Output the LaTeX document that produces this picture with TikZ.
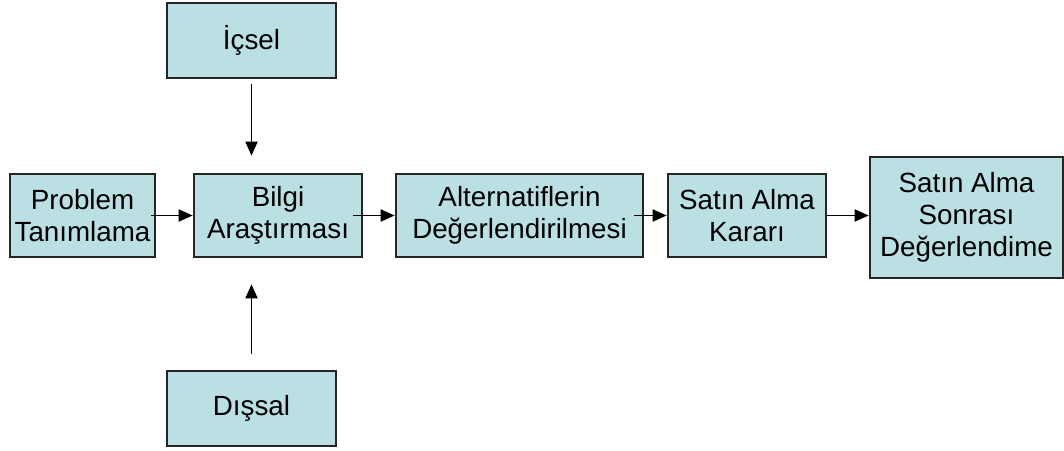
\documentclass[tikz,border=0pt]{standalone}
\usepackage{fontspec}
\setmainfont{Liberation Sans}
\usetikzlibrary{arrows.meta}
\definecolor{boxfill}{RGB}{186,224,228}
\tikzset{
  stage/.style={draw=black!85, line width=1.5pt, fill=boxfill, rectangle, align=center,
    inner sep=0pt, font=\fontsize{15.8}{18.2}\selectfont},
  flow/.style={-{Triangle[length=0.28cm,width=0.24cm]}, line width=1.05pt}
}
\begin{document}
\begin{tikzpicture}
                \useasboundingbox (0,0) rectangle (21.28,9);
                \node at (5.03,8.19) [stage, minimum width=3.38cm, minimum height=1.5cm] (icsel) {İçsel};
                \node at (1.65,4.69) [stage, minimum width=2.9cm, minimum height=1.66cm] (problem) {Problem\\Tanımlama};
                \node at (5.56,4.69) [stage, minimum width=3.36cm, minimum height=1.66cm] (bilgi) {Bilgi\\Araştırması};
                \node at (10.39,4.69) [stage, minimum width=4.94cm, minimum height=1.66cm] (alt) {Alternatiflerin\\Değerlendirilmesi};
                \node at (14.94,4.69) [stage, minimum width=3.16cm, minimum height=1.66cm] (karar) {Satın Alma\\Kararı};
                \node at (19.33,4.65) [stage, minimum width=3.86cm, minimum height=2.42cm] (sonra) {Satın Alma\\Sonrası\\Değerlendime};
                \node at (5.03,0.83) [stage, minimum width=3.38cm, minimum height=1.5cm] (dissal) {Dışsal};
                \draw[flow, shorten <=-0.1cm] (problem.east) -- (bilgi.west);
                \draw[flow, shorten <=-0.2cm] (bilgi.east) -- (alt.west);
                \draw[flow, shorten <=-0.2cm] (alt.east) -- (karar.west);
                \draw[flow] (karar.east) -- (sonra.west |- karar.east);
                \draw[flow, shorten <=0.1cm, shorten >=0.34cm] (icsel.south) -- (icsel.south |- bilgi.north);
                \draw[flow, shorten <=0.32cm, shorten >=0.52cm] (dissal.north) -- (dissal.north |- bilgi.south);
            \end{tikzpicture}
\end{document}
